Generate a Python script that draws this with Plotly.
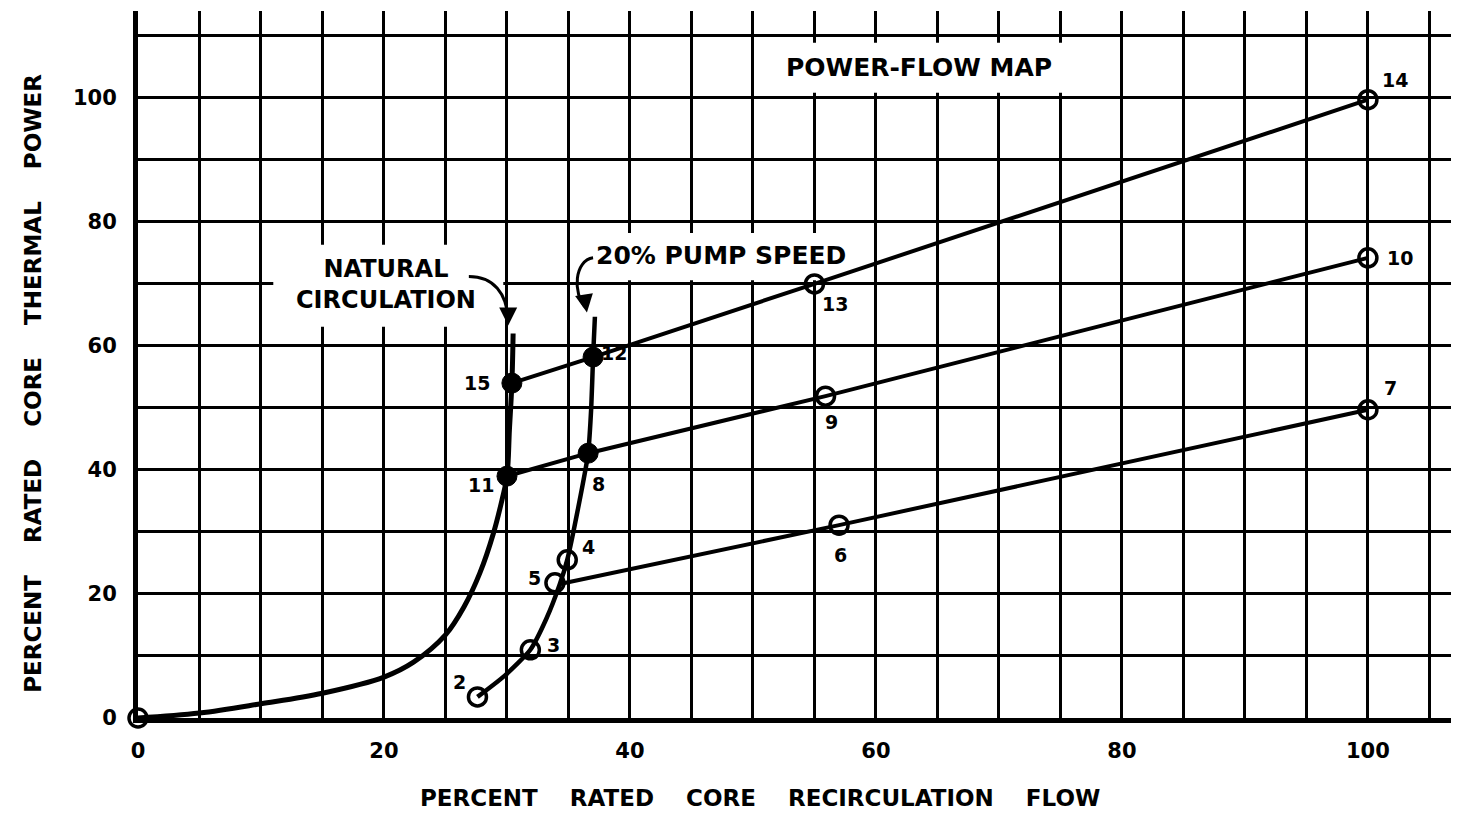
import plotly.graph_objects as go

# ---------------- data ----------------
x_ticks = [0, 20, 40, 60, 80, 100]
y_ticks = [0, 20, 40, 60, 80, 100]

# natural circulation curve
nat_x = [0, 5, 10, 15, 20, 22.4, 25.0, 26.5, 27.8, 28.9, 29.6, 30.0, 30.2, 30.4, 30.5]
nat_y = [0, 0.8, 2.3, 4.0, 6.6, 9.0, 13.4, 17.9, 23.4, 29.8, 35.2, 39.0, 46.5, 54.0, 62.0]

# 20% pump speed curve
pump_x = [27.6, 29.8, 31.9, 33.2, 34.3, 34.9, 35.8, 36.6, 36.85, 37.0, 37.15]
pump_y = [3.4, 6.8, 11.0, 16.0, 21.6, 25.5, 34.0, 42.7, 50.0, 58.2, 64.7]

# flow control lines
line_a_x = [34.3, 57.0, 100.0]
line_a_y = [21.6, 31.1, 49.7]
line_b_x = [30.0, 36.6, 55.9, 100.0]
line_b_y = [39.0, 42.7, 51.9, 74.2]
line_c_x = [30.4, 37.0, 55.0, 100.0]
line_c_y = [54.0, 58.2, 70.0, 99.7]

# numbered state points
pt_labels = ["0", "2", "3", "4", "5", "6", "7", "8", "9", "10", "11", "12", "13", "14", "15"]
pt_x = [0, 27.6, 31.9, 34.9, 33.9, 57.0, 100.0, 36.6, 55.9, 100.0, 30.0, 37.0, 55.0, 100.0, 30.4]
pt_y = [0, 3.4, 11.0, 25.5, 21.8, 31.1, 49.7, 42.7, 51.9, 74.2, 39.0, 58.2, 70.0, 99.7, 54.0]
pt_filled = ["8", "11", "12", "15"]
# label offsets in pixels (dx, dy)
pt_offsets = {
    "0": None, "2": (-18, 15), "3": (23, 5), "4": (21, 13), "5": (-20, 5),
    "6": (1, -30), "7": (23, 22), "8": (10, -31), "9": (6, -26), "10": (32, 0),
    "11": (-26, -9), "12": (21, 4), "13": (21, -20), "14": (27, 20), "15": (-35, 0),
}

FONT = "DejaVu Sans"
BLACK = "black"
SP = "\u00a0" * 4

fig = go.Figure()

fig.add_trace(go.Scatter(x=nat_x, y=nat_y, mode="lines",
                         line=dict(color=BLACK, width=5, shape="spline", smoothing=1.0),
                         cliponaxis=False, hoverinfo="skip"))
fig.add_trace(go.Scatter(x=pump_x, y=pump_y, mode="lines",
                         line=dict(color=BLACK, width=4.5, shape="spline", smoothing=0.6),
                         cliponaxis=False, hoverinfo="skip"))
for lx, ly in [(line_a_x, line_a_y), (line_b_x, line_b_y), (line_c_x, line_c_y)]:
    fig.add_trace(go.Scatter(x=lx, y=ly, mode="lines",
                             line=dict(color=BLACK, width=4),
                             cliponaxis=False, hoverinfo="skip"))

open_x = [x for x, l in zip(pt_x, pt_labels) if l not in pt_filled]
open_y = [y for y, l in zip(pt_y, pt_labels) if l not in pt_filled]
fill_x = [x for x, l in zip(pt_x, pt_labels) if l in pt_filled]
fill_y = [y for y, l in zip(pt_y, pt_labels) if l in pt_filled]

fig.add_trace(go.Scatter(x=open_x, y=open_y, mode="markers",
                         marker=dict(symbol="circle-open", size=18, color=BLACK,
                                     line=dict(width=3.5, color=BLACK)),
                         cliponaxis=False, hoverinfo="skip"))
fig.add_trace(go.Scatter(x=fill_x, y=fill_y, mode="markers",
                         marker=dict(symbol="circle", size=20, color=BLACK,
                                     line=dict(width=1, color=BLACK)),
                         cliponaxis=False, hoverinfo="skip"))

annotations = []
for lab, x, y in zip(pt_labels, pt_x, pt_y):
    off = pt_offsets[lab]
    if off is None:
        continue
    annotations.append(dict(x=x, y=y, xref="x", yref="y", text=lab, showarrow=False,
                            xshift=off[0], yshift=off[1],
                            font=dict(family=FONT, size=19, color=BLACK, weight="bold")))

# text labels
annotations.append(dict(x=63.5, y=104.9, xref="x", yref="y", text="POWER-FLOW MAP",
                        showarrow=False,
                        font=dict(family=FONT, size=25, color=BLACK, weight="bold")))
annotations.append(dict(x=20.2, y=69.9, xref="x", yref="y",
                        text="NATURAL<br>CIRCULATION", showarrow=False, align="center",
                        font=dict(family=FONT, size=24, color=BLACK, weight="bold")))
annotations.append(dict(x=47.4, y=74.6, xref="x", yref="y", text="20% PUMP SPEED",
                        showarrow=False,
                        font=dict(family=FONT, size=25, color=BLACK, weight="bold")))

# axis titles
annotations.append(dict(x=-0.0912, y=0.474, xref="paper", yref="paper",
                        text=SP.join(["PERCENT", "RATED", "CORE", "THERMAL", "POWER"]),
                        textangle=-90, showarrow=False,
                        font=dict(family=FONT, size=23, color=BLACK, weight="bold")))
annotations.append(dict(x=0.473, y=-0.134, xref="paper", yref="paper",
                        text=SP.join(["PERCENT", "RATED", "CORE", "RECIRCULATION", "FLOW"]),
                        showarrow=False,
                        font=dict(family=FONT, size=23, color=BLACK, weight="bold")))

# white boxes that break the grid around the labels (between grid and traces)
shapes = [
    dict(type="rect", xref="x", yref="y", x0=51.0, x1=76.2, y0=100.8, y1=108.9,
         fillcolor="white", line=dict(width=0), layer="between"),
    dict(type="rect", xref="x", yref="y", x0=11.0, x1=29.7, y0=63.1, y1=76.3,
         fillcolor="white", line=dict(width=0), layer="between"),
    dict(type="rect", xref="x", yref="y", x0=36.3, x1=58.3, y0=70.6, y1=78.2,
         fillcolor="white", line=dict(width=0), layer="between"),
    # curved leader arrows
    dict(type="path", xref="x", yref="y",
         path="M 26.9,71.2 C 28.9,71.2 30.0,68.5 30.1,64.2",
         line=dict(color=BLACK, width=3)),
    dict(type="path", xref="x", yref="y",
         path="M 37.0,74.2 C 35.5,73.8 35.3,68.5 36.4,66.2",
         line=dict(color=BLACK, width=3)),
]
annotations.append(dict(x=30.1, y=63.3, ax=30.1, ay=64.6, xref="x", yref="y",
                        axref="x", ayref="y", showarrow=True, arrowhead=2,
                        arrowsize=1.2, arrowwidth=3, arrowcolor=BLACK, text=""))
annotations.append(dict(x=36.5, y=65.4, ax=36.4, ay=66.6, xref="x", yref="y",
                        axref="x", ayref="y", showarrow=True, arrowhead=2,
                        arrowsize=1.2, arrowwidth=3, arrowcolor=BLACK, text=""))

fig.update_layout(
    width=1451, height=827,
    margin=dict(l=130, r=5, t=3, b=117),
    paper_bgcolor="white", plot_bgcolor="white",
    showlegend=False,
    annotations=annotations,
    shapes=shapes,
    xaxis=dict(range=[0, 107], tickvals=x_ticks, ticktext=[str(v) for v in x_ticks],
               showgrid=True, gridcolor=BLACK, gridwidth=3,
               minor=dict(dtick=5, tick0=0, showgrid=True, gridcolor=BLACK, gridwidth=3),
               showline=True, linecolor=BLACK, linewidth=5, zeroline=False,
               ticks="", ticklabelstandoff=10,
               tickfont=dict(family=FONT, size=21, color=BLACK, weight="bold")),
    yaxis=dict(range=[0, 114], tickvals=y_ticks, ticktext=[str(v) for v in y_ticks],
               showgrid=True, gridcolor=BLACK, gridwidth=3,
               minor=dict(dtick=10, tick0=0, showgrid=True, gridcolor=BLACK, gridwidth=3),
               showline=True, linecolor=BLACK, linewidth=5, zeroline=False,
               ticks="", ticklabelstandoff=12,
               tickfont=dict(family=FONT, size=21, color=BLACK, weight="bold")),
)

fig.write_html("out.html")
